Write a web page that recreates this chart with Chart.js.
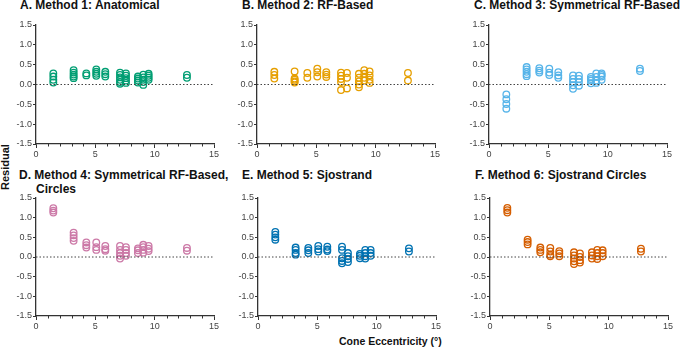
<!DOCTYPE html>
<html lang="en">

<head>
    <meta charset="UTF-8">
    <title>Residuals by Cone Eccentricity</title>
    <script src="https://cdn.jsdelivr.net/npm/chart.js"></script>
    <style>
        body { margin: 0; background: #fff; font-family: "Liberation Sans", Arial, sans-serif; }
        .page { position: relative; width: 683px; height: 348px; overflow: hidden; }
        .panel { position: absolute; }
        .title { position: absolute; font-weight: bold; font-size: 12px; line-height: 14px; color: #111; white-space: nowrap; }
        .axis-title { position: absolute; font-weight: bold; color: #111; white-space: nowrap; }
    </style>
</head>

<body>
    <div class="page" id="page">
        <div class="title" style="left:20px; top:-2px;">A. Method 1: Anatomical</div>
        <div class="title" style="left:242px; top:-2px;">B. Method 2: RF-Based</div>
        <div class="title" style="left:474px; top:-2px;">C. Method 3: Symmetrical RF-Based</div>
        <div class="title" style="left:19px; top:168px;">D. Method 4: Symmetrical RF-Based,</div>
        <div class="title" style="left:36px; top:182px;">Circles</div>
        <div class="title" style="left:242px; top:168px;">E. Method 5: Sjostrand</div>
        <div class="title" style="left:475px; top:168px;">F. Method 6: Sjostrand Circles</div>

        <div class="axis-title" style="font-size:11px; left:-18px; top:161px; transform: rotate(-90deg); width:46px; text-align:center;">Residual</div>
        <div class="axis-title" style="font-size:10.5px; left:339px; top:335px;">Cone Eccentricity (°)</div>
    </div>

    <script>
        // eccentricity of each measured location (deg)
        const eccentricity = [1.46, 3.17, 4.24, 5.08, 5.84, 7.08, 7.58, 8.59, 9.04, 9.49, 12.72];

        // residuals per eccentricity group, one array per method
        const anatomical = [
            [0.28, 0.20, 0.12, 0.05],
            [0.36, 0.30, 0.25, 0.20, 0.16],
            [0.28, 0.23],
            [0.38, 0.32, 0.27, 0.22],
            [0.32, 0.26, 0.20],
            [0.30, 0.24, 0.18, 0.12, 0.06, 0.02],
            [0.28, 0.22, 0.16, 0.10, 0.04],
            [0.20, 0.15, 0.10, 0.05],
            [0.25, 0.18, 0.12, 0.06, -0.01],
            [0.27, 0.22, 0.17, 0.12],
            [0.24, 0.17]
        ];
        const rfBased = [
            [0.32, 0.24, 0.15],
            [0.33, 0.15, 0.12, 0.08, 0.05],
            [0.29, 0.17],
            [0.40, 0.31, 0.20],
            [0.31, 0.25, 0.19],
            [0.30, 0.22, 0.14, 0.06, -0.14],
            [0.29, 0.17, -0.10],
            [0.27, 0.17, 0.08, 0.00, -0.07],
            [0.36, 0.27, 0.17, 0.10],
            [0.33, 0.23, 0.12, 0.04],
            [0.29, 0.10]
        ];
        const symRfBased = [
            [-0.25, -0.37, -0.49, -0.61],
            [0.44, 0.38, 0.32, 0.26, 0.21],
            [0.41, 0.35, 0.30],
            [0.40, 0.30, 0.24],
            [0.31, 0.23, 0.17],
            [0.23, 0.14, 0.06, -0.02, -0.11],
            [0.22, 0.14, 0.06, -0.03],
            [0.19, 0.14, 0.10, 0.03],
            [0.28, 0.19, 0.10, 0.04],
            [0.28, 0.24, 0.20, 0.12],
            [0.40, 0.34]
        ];
        const symRfCircles = [
            [1.24, 1.18, 1.13],
            [0.62, 0.55, 0.48, 0.41],
            [0.37, 0.30, 0.24],
            [0.37, 0.25, 0.18],
            [0.28, 0.20, 0.16],
            [0.28, 0.18, 0.10, 0.03, -0.04],
            [0.25, 0.18, 0.10, 0.03],
            [0.22, 0.17, 0.10],
            [0.31, 0.25, 0.18, 0.11],
            [0.28, 0.21, 0.15],
            [0.23, 0.16]
        ];
        const sjostrand = [
            [0.64, 0.57, 0.50, 0.44],
            [0.24, 0.18, 0.10, 0.06],
            [0.23, 0.17, 0.10],
            [0.28, 0.20, 0.14],
            [0.26, 0.19, 0.15],
            [0.26, 0.18, -0.03, -0.10, -0.16],
            [0.10, 0.02, -0.05, -0.13],
            [0.08, 0.03, -0.03],
            [0.18, 0.10, 0.02, -0.04],
            [0.18, 0.10, 0.03],
            [0.22, 0.14]
        ];
        const sjostrandCircles = [
            [1.25, 1.19, 1.13],
            [0.44, 0.38, 0.32],
            [0.24, 0.18, 0.12],
            [0.23, 0.14, 0.06, 0.02],
            [0.15, 0.09, 0.02],
            [0.12, 0.04, -0.04, -0.11, -0.18],
            [0.09, 0.00, -0.08, -0.14],
            [0.12, 0.04, -0.04],
            [0.18, 0.10, 0.02, -0.05],
            [0.17, 0.10, 0.02],
            [0.21, 0.14]
        ];

        const xTicks = [0, 5, 10, 15];
        const yTicks = [-1.5, -1.0, -0.5, 0.0, 0.5, 1.0, 1.5];

        // panel placement (plot area left/top in page pixels)
        const panels = [
            { data: anatomical, color: "#009E73", left: 36, top: 25, h: 119 },
            { data: rfBased, color: "#E69F00", left: 257, top: 25, h: 119 },
            { data: symRfBased, color: "#56B4E9", left: 489, top: 25, h: 119 },
            { data: symRfCircles, color: "#CC79A7", left: 36, top: 198, h: 118 },
            { data: sjostrand, color: "#0072B2", left: 258, top: 198, h: 118 },
            { data: sjostrandCircles, color: "#D55E00", left: 490, top: 198, h: 118 }
        ];

        const AXIS = "#333";
        const Y_W = 34, X_H = 16, PAD_T = 8, PAD_R = 10, PLOT_W = 178;

        // small unlabeled ticks at each integer on the x axis
        const minorTicks = {
            id: "minorTicks",
            afterDraw(chart) {
                const x = chart.scales.x;
                const ctx = chart.ctx;
                const yb = chart.chartArea.bottom;
                ctx.save();
                ctx.strokeStyle = AXIS;
                ctx.lineWidth = 1;
                for (let v = 1; v < 15; v++) {
                    if (v % 5 === 0) continue;
                    const px = Math.round(x.getPixelForValue(v)) + 0.5;
                    ctx.beginPath();
                    ctx.moveTo(px, yb);
                    ctx.lineTo(px, yb + 2.5);
                    ctx.stroke();
                }
                ctx.restore();
            }
        };

        const page = document.getElementById("page");

        panels.forEach(p => {
            const canvas = document.createElement("canvas");
            const w = Y_W + PLOT_W + PAD_R;
            const h = PAD_T + p.h + X_H;
            canvas.width = w;
            canvas.height = h;
            canvas.className = "panel";
            canvas.style.left = (p.left - Y_W) + "px";
            canvas.style.top = (p.top - PAD_T) + "px";
            canvas.style.width = w + "px";
            canvas.style.height = h + "px";
            page.appendChild(canvas);

            const points = [];
            eccentricity.forEach((e, i) => {
                p.data[i].forEach(r => points.push({ x: e, y: r }));
            });

            new Chart(canvas.getContext("2d"), {
                type: "scatter",
                data: {
                    datasets: [
                        {
                            type: "line",
                            data: [{ x: 0, y: 0 }, { x: 15, y: 0 }],
                            borderColor: "#444",
                            borderWidth: 1,
                            borderDash: [1.5, 2],
                            pointRadius: 0,
                            fill: false
                        },
                        {
                            data: points,
                            borderColor: p.color,
                            backgroundColor: "rgba(255,255,255,0)",
                            borderWidth: 1.3,
                            pointRadius: 3.3,
                            pointStyle: "circle"
                        }
                    ]
                },
                options: {
                    responsive: false,
                    animation: false,
                    devicePixelRatio: 1,
                    layout: { padding: { top: PAD_T, right: PAD_R, left: 0, bottom: 0 } },
                    plugins: { legend: { display: false }, tooltip: { enabled: false } },
                    scales: {
                        x: {
                            type: "linear",
                            min: 0, max: 15,
                            afterBuildTicks: s => { s.ticks = xTicks.map(v => ({ value: v })); },
                            afterFit: s => { s.height = X_H; },
                            ticks: { color: "#444", font: { size: 9, family: "Liberation Sans" }, padding: 1, maxRotation: 0 },
                            grid: { drawOnChartArea: false, tickLength: 4, color: AXIS, tickWidth: 1 },
                            border: { color: AXIS, width: 1.3 }
                        },
                        y: {
                            min: -1.5, max: 1.5,
                            afterBuildTicks: s => { s.ticks = yTicks.map(v => ({ value: v })); },
                            afterFit: s => { s.width = Y_W; },
                            ticks: { color: "#444", font: { size: 9, family: "Liberation Sans" }, padding: 1, callback: v => v.toFixed(1) },
                            grid: { drawOnChartArea: false, tickLength: 3, color: AXIS, tickWidth: 1 },
                            border: { color: AXIS, width: 1.3 }
                        }
                    }
                },
                plugins: [minorTicks]
            });
        });
    </script>
</body>

</html>
